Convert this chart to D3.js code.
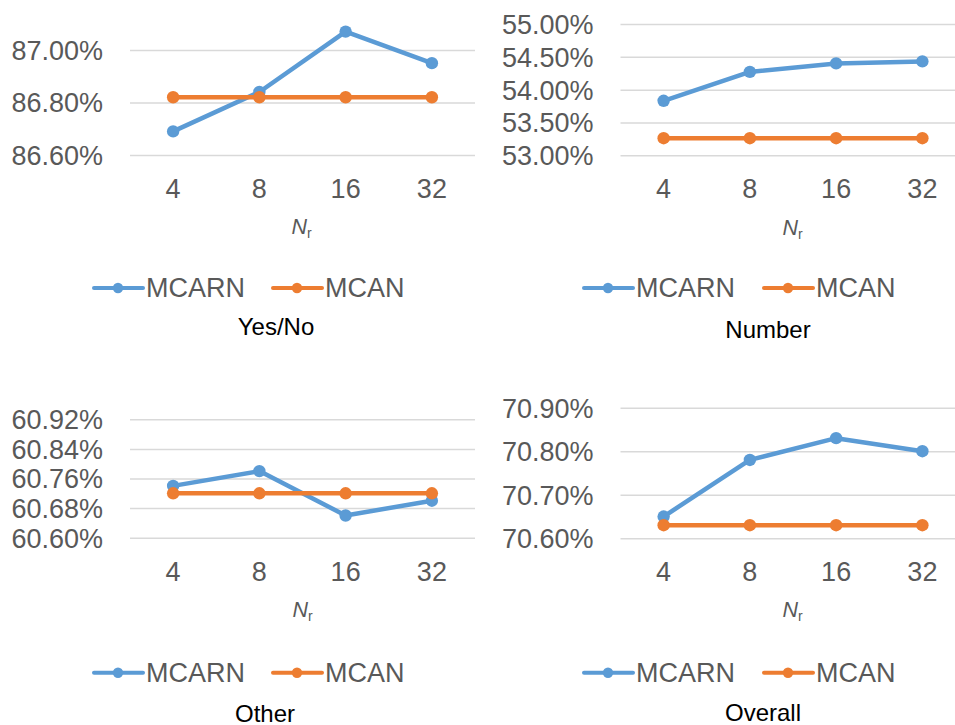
<!DOCTYPE html>
<html>
<head>
<meta charset="utf-8">
<script src="https://cdn.jsdelivr.net/npm/d3@7"></script>
<style>
  html, body { margin: 0; padding: 0; background: #fff; }
  svg { display: block; font-family: "Liberation Sans", Arial, sans-serif; }
</style>
</head>
<body>
<svg id="chart" width="955" height="725"></svg>
<script>
// ---- Data ----
const categories = ["4", "8", "16", "32"];
const seriesNames = ["MCARN", "MCAN"];
const seriesColors = ["#5B9BD5", "#ED7D31"];

const yesNoMCARN = [86.69, 86.84, 87.07, 86.95];
const yesNoMCAN = [86.82, 86.82, 86.82, 86.82];
const yesNoTicks = [86.6, 86.8, 87.0];

const numberMCARN = [53.83, 54.27, 54.40, 54.43];
const numberMCAN = [53.26, 53.26, 53.26, 53.26];
const numberTicks = [53.0, 53.5, 54.0, 54.5, 55.0];

const otherMCARN = [60.74, 60.78, 60.66, 60.70];
const otherMCAN = [60.72, 60.72, 60.72, 60.72];
const otherTicks = [60.60, 60.68, 60.76, 60.84, 60.92];

const overallMCARN = [70.65, 70.78, 70.83, 70.80];
const overallMCAN = [70.63, 70.63, 70.63, 70.63];
const overallTicks = [70.6, 70.7, 70.8, 70.9];

const titles = ["Yes/No", "Number", "Other", "Overall"];

// ---- Layout ----
const panels = [
  { title: titles[0], series: [yesNoMCARN, yesNoMCAN], ticks: yesNoTicks,
    x0: 130, y0: 50, y1: 155, xBase: 198, nX: 291.5, nY: 234, legY: 288, legX: 94, legX2: 273, titleX: 276, titleY: 335 },
  { title: titles[1], series: [numberMCARN, numberMCAN], ticks: numberTicks,
    x0: 620.5, y0: 24, y1: 155.3, xBase: 198, nX: 782.5, nY: 235, legY: 288, legX: 584, legX2: 764, titleX: 768, titleY: 338 },
  { title: titles[2], series: [otherMCARN, otherMCAN], ticks: otherTicks,
    x0: 130, y0: 419.3, y1: 537.7, xBase: 580.5, nX: 292.5, nY: 617, legY: 672.7, legX: 94, legX2: 273, titleX: 265, titleY: 721.5 },
  { title: titles[3], series: [overallMCARN, overallMCAN], ticks: overallTicks,
    x0: 620.5, y0: 407.7, y1: 538.3, xBase: 580.5, nX: 782.5, nY: 617, legY: 672.7, legX: 584, legX2: 764, titleX: 763, titleY: 721 }
];

const plotW = 345;
const svg = d3.select("#chart");
const fmt = d3.format(".2f");

panels.forEach(p => {
  const g = svg.append("g");
  const x = d3.scaleBand().domain(categories).range([p.x0, p.x0 + plotW]);
  const cx = c => x(c) + x.bandwidth() / 2;
  const y = d3.scaleLinear()
    .domain([p.ticks[0], p.ticks[p.ticks.length - 1]])
    .range([p.y1, p.y0]);

  // Y axis with gridlines
  const yAxis = d3.axisLeft(y).tickValues(p.ticks).tickSize(-plotW).tickPadding(27)
    .tickFormat(d => fmt(d) + "%");
  const ya = g.append("g").attr("transform", `translate(${p.x0},0)`).call(yAxis);
  ya.select(".domain").remove();
  ya.selectAll(".tick line").attr("stroke", "#d9d9d9").attr("stroke-width", 1.5);
  ya.selectAll(".tick text").attr("fill", "#595959").style("font-size", "27px")
    .attr("dy", "0.35em");

  // X axis
  const xAxis = d3.axisBottom(x).tickSize(0).tickPadding(0);
  const xa = g.append("g").attr("transform", `translate(0,${p.xBase})`).call(xAxis);
  xa.select(".domain").remove();
  xa.selectAll(".tick text").attr("fill", "#595959").style("font-size", "27px")
    .attr("dy", "0").attr("y", 0);

  // Axis title N_r
  const nt = g.append("text").attr("x", p.nX).attr("y", p.nY)
    .attr("fill", "#595959").style("font-size", "21.5px");
  nt.append("tspan").style("font-style", "italic").text("N");
  nt.append("tspan").attr("dy", 4).style("font-size", "14px").text("r");

  // Series
  const line = d3.line().x((d, i) => cx(categories[i])).y(d => y(d));
  p.series.forEach((vals, si) => {
    g.append("path").datum(vals)
      .attr("d", line)
      .attr("fill", "none")
      .attr("stroke", seriesColors[si])
      .attr("stroke-width", 4.5)
      .attr("stroke-linejoin", "round")
      .attr("stroke-linecap", "round");
    g.selectAll(null).data(vals).enter().append("circle")
      .attr("cx", (d, i) => cx(categories[i]))
      .attr("cy", d => y(d))
      .attr("r", 6.2)
      .attr("fill", seriesColors[si]);
  });

  // Legend
  [p.legX, p.legX2].forEach((lx, si) => {
    const lg = g.append("g");
    lg.append("line").attr("x1", lx).attr("x2", lx + 49)
      .attr("y1", p.legY).attr("y2", p.legY)
      .attr("stroke", seriesColors[si]).attr("stroke-width", 4)
      .attr("stroke-linecap", "round");
    lg.append("circle").attr("cx", lx + 24).attr("cy", p.legY).attr("r", 5.2)
      .attr("fill", seriesColors[si]);
    lg.append("text").attr("x", lx + 52).attr("y", p.legY).attr("dy", "0.35em")
      .attr("fill", "#595959").style("font-size", "27px").text(seriesNames[si]);
  });

  // Panel title
  g.append("text").attr("x", p.titleX).attr("y", p.titleY)
    .attr("text-anchor", "middle").attr("fill", "#000")
    .style("font-size", "24px").text(p.title);
});
</script>
</body>
</html>
